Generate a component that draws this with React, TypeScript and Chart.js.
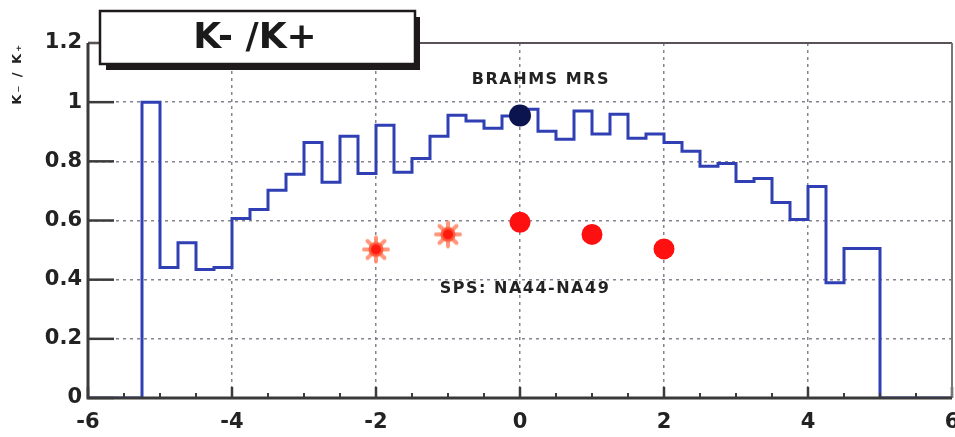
import React, { useEffect, useRef } from "react";
import { Chart, registerables } from "chart.js";

Chart.register(...registerables);

// ---- data ----
const binEdges = [
  -6, -5.75, -5.5, -5.25, -5, -4.75, -4.5, -4.25, -4, -3.75, -3.5, -3.25,
  -3, -2.75, -2.5, -2.25, -2, -1.75, -1.5, -1.25, -1, -0.75, -0.5, -0.25,
  0, 0.25, 0.5, 0.75, 1, 1.25, 1.5, 1.75, 2, 2.25, 2.5, 2.75,
  3, 3.25, 3.5, 3.75, 4, 4.25, 4.5, 4.75, 5, 5.25, 5.5, 5.75, 6,
];
const kRatio = [
  0, 0, 0, 1.0, 0.441, 0.525, 0.434, 0.441, 0.607, 0.637, 0.702, 0.756,
  0.864, 0.729, 0.885, 0.759, 0.922, 0.763, 0.81, 0.885, 0.956, 0.936, 0.912, 0.953,
  0.976, 0.902, 0.875, 0.97, 0.892, 0.959, 0.878, 0.892, 0.864, 0.834, 0.783, 0.793,
  0.732, 0.742, 0.661, 0.603, 0.715, 0.39, 0.505, 0.505, 0, 0, 0, 0,
];
const brahmsX = [0];
const brahmsY = [0.955];
const spsDotX = [0, 1, 2];
const spsDotY = [0.594, 0.553, 0.504];
const spsStarX = [-2, -1];
const spsStarY = [0.502, 0.553];

const titleText = "K- /K+";
const yTitleText = "K\u208B / K\u208A";
const labelBrahms = { text: "BRAHMS MRS", x: 0.29, y: 1.077 };
const labelSps = { text: "SPS: NA44-NA49", x: 0.07, y: 0.368 };

const FONT = "'DejaVu Sans', 'Liberation Sans', sans-serif";

function makeStar(): HTMLCanvasElement {
  const c = document.createElement("canvas");
  c.width = 30;
  c.height = 30;
  const g = c.getContext("2d")!;
  g.translate(15, 15);
  g.lineCap = "round";
  for (let k = 0; k < 8; k++) {
    const a = (k * Math.PI) / 4;
    g.strokeStyle = "rgba(255,140,110,0.9)";
    g.lineWidth = 4;
    g.beginPath();
    g.moveTo(0, 0);
    g.lineTo(Math.cos(a) * 12, Math.sin(a) * 12);
    g.stroke();
  }
  g.fillStyle = "#ff5a3c";
  g.beginPath();
  g.arc(0, 0, 7.5, 0, Math.PI * 2);
  g.fill();
  g.fillStyle = "#ff1a10";
  g.beginPath();
  g.arc(0, 0, 5, 0, Math.PI * 2);
  g.fill();
  return c;
}

const decorPlugin = {
  id: "decor",
  afterDraw(chart: any) {
    const ctx: CanvasRenderingContext2D = chart.ctx;
    const { left, right, top, bottom } = chart.chartArea;
    const xs = chart.scales.x;
    const ys = chart.scales.y;
    ctx.save();

    // major y ticks (inside)
    ctx.strokeStyle = "#3a3a3a";
    ctx.lineWidth = 2.5;
    ys.ticks.forEach((t: any) => {
      const py = ys.getPixelForValue(t.value);
      ctx.beginPath();
      ctx.moveTo(left, py);
      ctx.lineTo(left + 26, py);
      ctx.stroke();
    });
    // major + minor x ticks (inside)
    const xt = xs.ticks.map((t: any) => t.value);
    xt.forEach((v: number, i: number) => {
      const px = xs.getPixelForValue(v);
      ctx.lineWidth = 2.5;
      ctx.beginPath();
      ctx.moveTo(px, bottom);
      ctx.lineTo(px, bottom - 11);
      ctx.stroke();
      if (i < xt.length - 1) {
        const step = (xt[i + 1] - v) / 4;
        for (let k = 1; k < 4; k++) {
          const mx = xs.getPixelForValue(v + step * k);
          ctx.lineWidth = 2;
          ctx.beginPath();
          ctx.moveTo(mx, bottom);
          ctx.lineTo(mx, bottom - 5);
          ctx.stroke();
        }
      }
    });

    // frame
    ctx.lineWidth = 2;
    ctx.strokeStyle = "#5a5258";
    ctx.beginPath();
    ctx.moveTo(left, top);
    ctx.lineTo(right, top);
    ctx.stroke();
    ctx.strokeStyle = "#777";
    ctx.beginPath();
    ctx.moveTo(right, top);
    ctx.lineTo(right, bottom);
    ctx.stroke();
    ctx.lineWidth = 3;
    ctx.strokeStyle = "#3a3a3a";
    ctx.beginPath();
    ctx.moveTo(left, top);
    ctx.lineTo(left, bottom);
    ctx.lineTo(right, bottom);
    ctx.stroke();

    // title box with shadow
    ctx.fillStyle = "#1e1a1c";
    ctx.fillRect(106, 17, 314, 53);
    ctx.fillStyle = "#ffffff";
    ctx.fillRect(100, 11, 315, 53);
    ctx.lineWidth = 2.5;
    ctx.strokeStyle = "#1e1a1c";
    ctx.strokeRect(100, 11, 315, 53);
    ctx.fillStyle = "#1a1a1a";
    ctx.font = `bold 36px ${FONT}`;
    ctx.textAlign = "center";
    ctx.textBaseline = "middle";
    ctx.fillText(titleText, 255, 39);

    // annotations
    ctx.font = `bold 16px ${FONT}`;
    (ctx as any).letterSpacing = "1.5px";
    ctx.fillStyle = "#222";
    [labelBrahms, labelSps].forEach((l) => {
      ctx.fillText(l.text, xs.getPixelForValue(l.x), ys.getPixelForValue(l.y));
    });

    // y axis title (rotated)
    (ctx as any).letterSpacing = "2px";
    ctx.font = `bold 13px ${FONT}`;
    ctx.translate(18, 43);
    ctx.rotate(-Math.PI / 2);
    ctx.textAlign = "right";
    ctx.fillText(yTitleText, 0, 0);
    (ctx as any).letterSpacing = "0px";
    ctx.restore();
  },
};

export default function App() {
  const ref = useRef<HTMLCanvasElement | null>(null);
  useEffect(() => {
    if (!ref.current) return;
    const star = makeStar();
    const histData = binEdges.map((x, i) => ({
      x,
      y: i < kRatio.length ? kRatio[i] : kRatio[kRatio.length - 1],
    }));
    const chart = new Chart(ref.current, {
      type: "scatter",
      data: {
        datasets: [
          {
            label: "BRAHMS MRS",
            data: brahmsX.map((x, i) => ({ x, y: brahmsY[i] })),
            pointRadius: 11,
            backgroundColor: "#0c1450",
            borderWidth: 0,
          },
          {
            label: "SPS dots",
            data: spsDotX.map((x, i) => ({ x, y: spsDotY[i] })),
            pointRadius: 10.5,
            backgroundColor: "#ff1010",
            borderWidth: 0,
          },
          {
            label: "SPS stars",
            data: spsStarX.map((x, i) => ({ x, y: spsStarY[i] })),
            pointStyle: star as any,
            pointRadius: 12,
          },
          {
            type: "line",
            label: "K-/K+",
            data: histData,
            stepped: "before",
            borderColor: "#3040b4",
            borderWidth: 3,
            pointRadius: 0,
            fill: false,
          } as any,
        ],
      },
      options: {
        animation: false,
        responsive: false,
        events: [],
        layout: { autoPadding: false, padding: { left: 0, right: 3, top: 43, bottom: 0 } },
        plugins: { legend: { display: false }, tooltip: { enabled: false } },
        scales: {
          x: {
            type: "linear",
            min: -6,
            max: 6,
            ticks: {
              stepSize: 2,
              padding: 12,
              color: "#222",
              font: { family: FONT, weight: "bold", size: 21 },
            },
            grid: {
              drawTicks: false,
              color: "rgba(110,110,125,0.85)",
              lineWidth: 1.5,
            },
            border: { display: false, dash: [3, 4] },
            afterFit: (s: any) => {
              s.height = 39;
              s.paddingLeft = 0;
              s.paddingRight = 0;
            },
          },
          y: {
            type: "linear",
            min: 0,
            max: 1.2,
            ticks: {
              stepSize: 0.2,
              padding: 6,
              color: "#222",
              font: { family: FONT, weight: "bold", size: 21 },
              callback: (v: any) => String(Math.round(Number(v) * 10) / 10),
            },
            grid: {
              drawTicks: false,
              color: "rgba(110,110,125,0.85)",
              lineWidth: 1.5,
            },
            border: { display: false, dash: [3, 4] },
            afterFit: (s: any) => {
              s.width = 88;
              s.paddingTop = 0;
              s.paddingBottom = 0;
            },
          },
        },
      } as any,
      plugins: [decorPlugin],
    });
    return () => chart.destroy();
  }, []);
  return (
    <div
      style={{
        position: "absolute",
        left: 0,
        top: 0,
        width: 955,
        height: 437,
        background: "#fff",
      }}
    >
      <canvas ref={ref} width={955} height={437} style={{ display: "block" }} />
    </div>
  );
}
